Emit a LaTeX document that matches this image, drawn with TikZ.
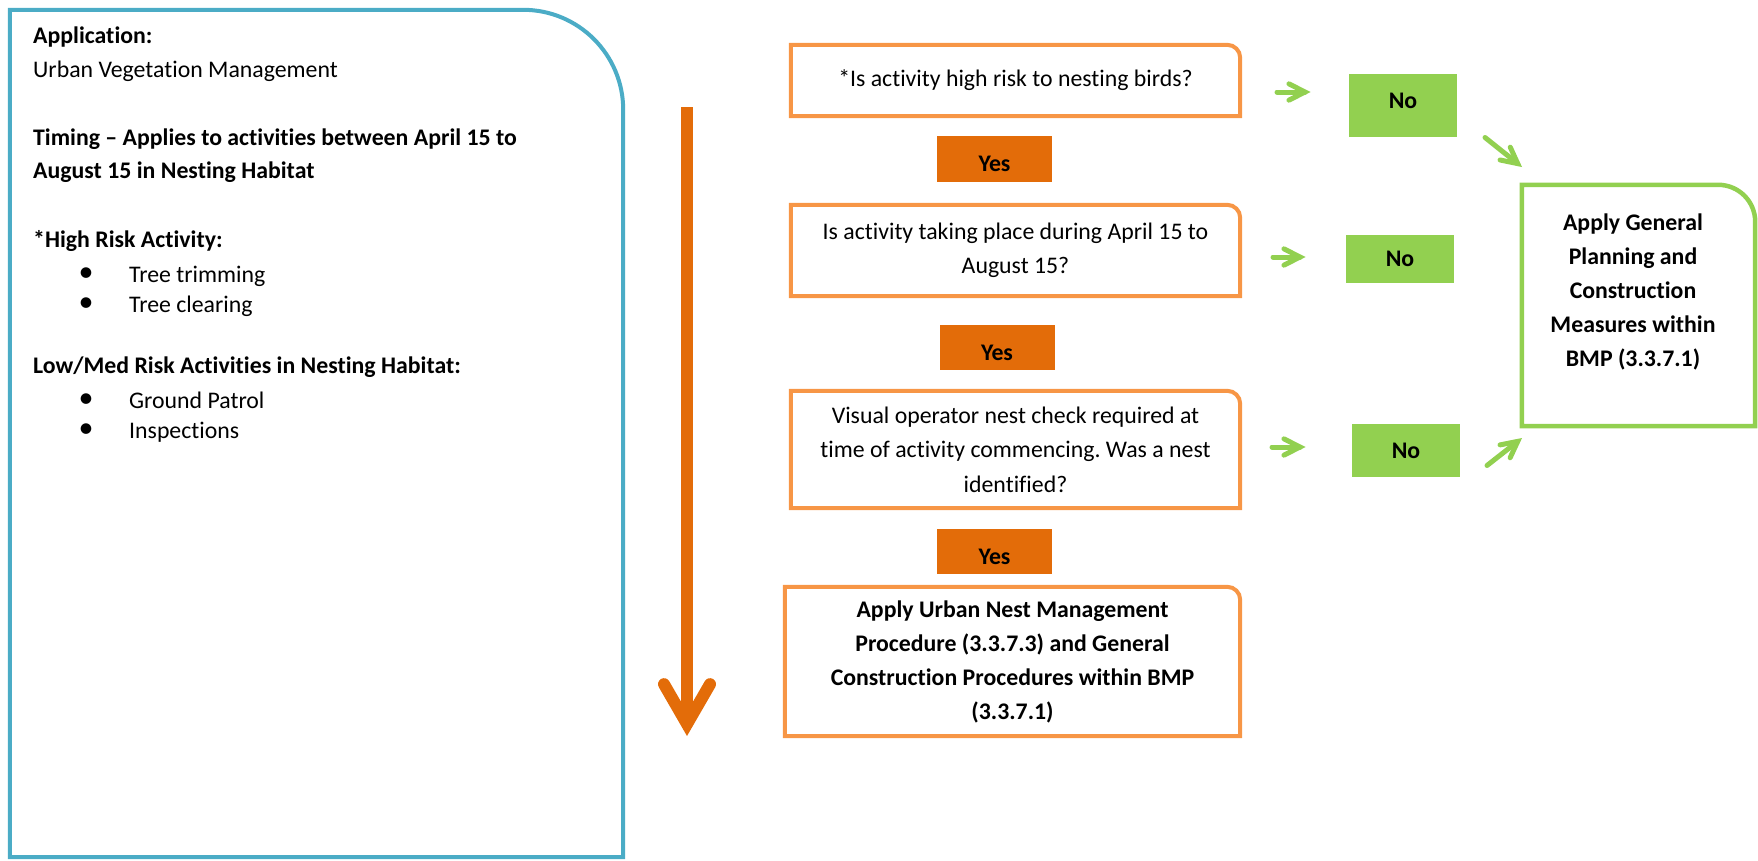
\documentclass[tikz,border=0pt]{standalone}
\usepackage{fontspec}
\setmainfont[Ligatures={TeX,NoCommon}]{Carlito}
\usetikzlibrary{calc}
\frenchspacing
\definecolor{bblue}{HTML}{4BACC6}
\definecolor{lorange}{HTML}{F79646}
\definecolor{dorange}{HTML}{E36C09}
\definecolor{lgreen}{HTML}{92D050}
\newcommand\bodyfont{\fontsize{23.8}{33}\selectfont}
\newcommand\trcorner[3]{%
  \draw[#3] (#1.south west) -- (#1.north west) -- ([xshift=-#2pt]#1.north east)
    arc[start angle=-90,end angle=0,radius=#2] -- (#1.south east) -- cycle;}
\newcommand\vhead[5]{\draw[#1] ($(#3)!#4!#5:(#2)$) -- (#3) -- ($(#3)!#4!-#5:(#2)$);}
\begin{document}
\begin{tikzpicture}[x=1pt,y=-1pt,
  every node/.style={inner sep=0pt, font=\bodyfont},
  ltext/.style={anchor=base west},
  ltextb/.style={anchor=base west, font=\bodyfont\bfseries},
  bmark/.style={anchor=center, font=\fontsize{30}{30}\selectfont},
  qbox/.style={rectangle, align=center},
  qtext/.style={font=\fontsize{23.8}{34.5}\selectfont},
  btext/.style={font=\fontsize{23.8}{34}\selectfont\bfseries},
  yesbox/.style={rectangle, fill=dorange, minimum width=115pt, font=\bodyfont\bfseries},
  nobox/.style={rectangle, fill=lgreen, minimum width=108pt, font=\bodyfont\bfseries},
  oborder/.style={draw=lorange, line width=4pt},
  bborder/.style={draw=bblue, line width=4pt},
  gborder/.style={draw=lgreen, line width=4.5pt},
  garrow/.style={draw=lgreen, line width=5pt, line cap=round, line join=miter},
  bigshaft/.style={draw=dorange, line width=12pt},
  bighead/.style={draw=dorange, line width=12pt, line cap=round, line join=miter}
]
\useasboundingbox (0,0) rectangle (1758,860);

% left info panel
\node[rectangle, minimum width=613pt, minimum height=847pt] (panel) at (316.5,433.5) {};
\trcorner{panel}{100}{bborder}
\node[ltextb] (t1) at (33,43) {Application:};
\node[ltext]  (t2) at (33,77) {Urban Vegetation Management};
\node[ltextb] (t3) at (33,145) {Timing – Applies to activities between April 15 to};
\node[ltextb] (t4) at (33,178) {August 15 in Nesting Habitat};
\node[ltextb] (t5) at (33,247) {*High Risk Activity:};
\node[bmark]  (b1) at (86,275) {•};
\node[ltext]  (t6) at (129,282) {Tree trimming};
\node[bmark]  (b2) at (86,305) {•};
\node[ltext]  (t7) at (129,312) {Tree clearing};
\node[ltextb] (t8) at (33,373) {Low/Med Risk Activities in Nesting Habitat:};
\node[bmark]  (b3) at (86,401) {•};
\node[ltext]  (t9) at (129,408) {Ground Patrol};
\node[bmark]  (b4) at (86,431) {•};
\node[ltext]  (t10) at (129,438) {Inspections};

% big down arrow
\coordinate (bigtop) at (687,107);
\coordinate (bigtip) at (687,724);
\draw[bigshaft] (bigtop) -- (bigtip);
\vhead{bighead}{bigtop}{bigtip}{46pt}{30}

% question boxes
\node[qbox, qtext, minimum width=449pt, minimum height=71pt] (q1) at (1015.5,80.5)
  {*Is activity high risk to nesting birds?};
\trcorner{q1}{13}{oborder}
\node[qbox, qtext, minimum width=449pt, minimum height=91pt] (q2) at (1015.5,250.5)
  {Is activity taking place during April 15 to\\August 15?};
\trcorner{q2}{13}{oborder}
\node[qbox, qtext, minimum width=449pt, minimum height=117pt] (q3) at (1015.5,449.5)
  {Visual operator nest check required at\\time of activity commencing. Was a nest\\identified?};
\trcorner{q3}{13}{oborder}
\node[qbox, btext, minimum width=455pt, minimum height=149pt] (q4) at (1012.5,661.5)
  {Apply Urban Nest Management\\Procedure (3.3.7.3) and General\\Construction Procedures within BMP\\(3.3.7.1)};
\trcorner{q4}{13}{oborder}

% yes labels
\node[yesbox, minimum height=46pt] (y1) at (994.5,159) {\raisebox{-5pt}[\height][\depth]{Yes}};
\node[yesbox, minimum height=45pt] (y2) at (997,347.5) {\raisebox{-5pt}[\height][\depth]{Yes}};
\node[yesbox, minimum height=45pt] (y3) at (994.5,551.5) {\raisebox{-5pt}[\height][\depth]{Yes}};

% no labels
\node[nobox, minimum height=63pt] (n1) at (1403,105.5) {\raisebox{5pt}[\height][\depth]{No}};
\node[nobox, minimum height=48pt] (n2) at (1400,259) {No};
\node[nobox, minimum height=53pt] (n3) at (1406,450.5) {No};

% outcome box
\node[rectangle, minimum width=233pt, minimum height=241pt] (gb) at (1638.5,305.5) {};
\trcorner{gb}{37}{gborder}
\node[align=center, btext] (gtext) at (1633,292)
  {Apply General\\Planning and\\Construction\\Measures within\\BMP (3.3.7.1)};

% green arrows
\coordinate (a1s) at (1277,92);   \coordinate (a1t) at (1305,92);
\coordinate (a2s) at (1273,257);  \coordinate (a2t) at (1300,257);
\coordinate (a3s) at (1272,447);  \coordinate (a3t) at (1300,447);
\coordinate (d1s) at (1485,137.5); \coordinate (d1t) at (1517.7,163.6);
\coordinate (d3s) at (1487,465.5); \coordinate (d3t) at (1517.7,441.4);
\foreach \s/\t in {a1s/a1t,a2s/a2t,a3s/a3t,d1s/d1t,d3s/d3t}{
  \draw[garrow] (\s) -- (\t);
  \vhead{garrow}{\s}{\t}{18pt}{27}
}
\end{tikzpicture}
\end{document}
